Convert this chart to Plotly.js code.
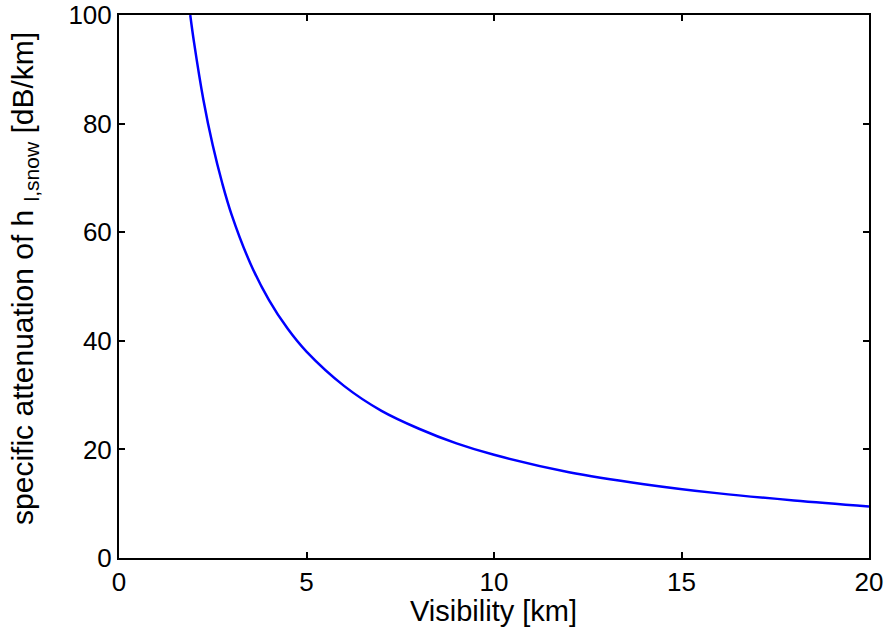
<!DOCTYPE html>
<html>
<head>
<meta charset="utf-8">
<script src="https://cdn.plot.ly/plotly-3.0.1.min.js"></script>
<style>html,body{margin:0;padding:0;background:#fff;}#chart{width:889px;height:635px;}</style>
</head>
<body>
<div id="chart"></div>
<script>
// Visibility [km]
var visibility = [1.9, 2.0, 2.25, 2.5, 2.75, 3.0, 3.5, 4.0, 4.5, 5.0, 6.0, 7.0, 8.0, 9.0, 10.0, 12.0, 14.0, 16.0, 18.0, 20.0];
// specific attenuation [dB/km]
var attenuation = [100, 95, 84.4, 76, 69.1, 63.3, 54.3, 47.5, 42.2, 38.0, 31.7, 27.1, 23.8, 21.1, 19.0, 15.8, 13.6, 11.9, 10.6, 9.5];
var xTicks = [0, 5, 10, 15, 20];
var yTicks = [0, 20, 40, 60, 80, 100];
var xTitle = 'Visibility [km]';
var yTitle = 'specific attenuation of h <sub>l,snow</sub> [dB/km]';

var trace = {
  x: visibility,
  y: attenuation,
  type: 'scatter',
  mode: 'lines',
  line: {color: '#0000ff', width: 2.5, shape: 'spline', smoothing: 1},
  hoverinfo: 'none'
};

var fontFam = 'Liberation Sans, Arial, Helvetica, sans-serif';

var axisCommon = {
  showline: true,
  linecolor: '#000',
  linewidth: 2,
  mirror: 'ticks',
  ticks: 'inside',
  ticklen: 6,
  tickwidth: 2,
  tickcolor: '#000',
  showgrid: false,
  zeroline: false,
  ticklabeloverflow: 'allow',
  tickfont: {family: fontFam, size: 26, color: '#000'}
};

var layout = {
  width: 889,
  height: 635,
  margin: {l: 119, r: 20, t: 15, b: 77},
  paper_bgcolor: '#fff',
  plot_bgcolor: '#fff',
  showlegend: false,
  font: {family: fontFam, color: '#000'},
  xaxis: Object.assign({}, axisCommon, {
    range: [0, 20],
    tickvals: xTicks,
    ticktext: xTicks.map(String)
  }),
  yaxis: Object.assign({}, axisCommon, {
    range: [0, 100],
    tickvals: yTicks,
    ticktext: yTicks.map(String)
  }),
  annotations: [
    {text: xTitle, xref: 'paper', yref: 'paper', x: 0.4987, y: -0.097,
     xanchor: 'center', yanchor: 'middle', showarrow: false,
     font: {family: fontFam, size: 29, color: '#000'}},
    {text: yTitle, xref: 'paper', yref: 'paper', x: -0.1253, y: 0.514,
     xanchor: 'center', yanchor: 'middle', showarrow: false, textangle: -90,
     font: {family: fontFam, size: 30, color: '#000'}}
  ]
};

Plotly.newPlot('chart', [trace], layout, {displayModeBar: false, staticPlot: true});
</script>
</body>
</html>
